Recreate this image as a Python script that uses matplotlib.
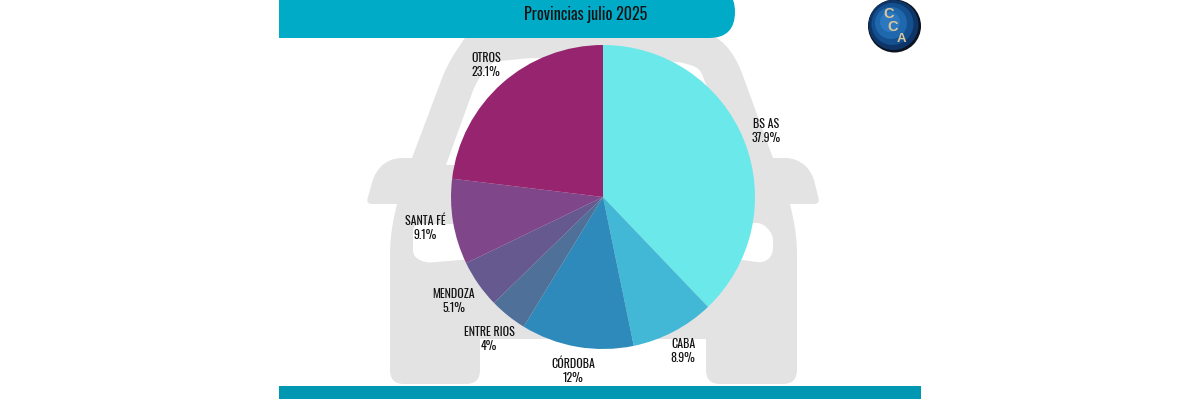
import numpy as np
import matplotlib
matplotlib.use("Agg")
import matplotlib.pyplot as plt
from matplotlib.path import Path
from matplotlib.patches import PathPatch, Circle, Rectangle, FancyBboxPatch

plt.rcParams['font.family'] = ['Oswald', 'Barlow Condensed', 'Liberation Sans', 'DejaVu Sans']

title = "Provincias julio 2025"
provinces = ["BS AS", "CABA", "CÓRDOBA", "ENTRE RIOS", "MENDOZA", "SANTA FÉ", "OTROS"]
shares = [37.9, 8.9, 12, 4, 5.1, 9.1, 23.1]
slice_colors = ["#6BE8EA", "#42B8D6", "#2E8ABA", "#4F7099", "#65598F", "#80468A", "#96246F"]
label_xy = [(766, 131.5), (683, 351.5), (573, 370.5), (489, 339.5), (453.5, 301.5), (425, 227.5), (486, 65)]

GREY = "#E3E3E3"


def rounded(points, radii):
    """Closed path through points with each corner rounded by its radius."""
    n = len(points)
    pts = np.array(points, float)
    verts, codes = [], []
    for i in range(n):
        p, a, b = pts[i], pts[i - 1], pts[(i + 1) % n]
        r = radii[i]
        u = (a - p) / np.linalg.norm(a - p)
        v = (b - p) / np.linalg.norm(b - p)
        s, e = p + u * r, p + v * r
        verts.append(s)
        codes.append(Path.MOVETO if i == 0 else Path.LINETO)
        verts += [p, e]
        codes += [Path.CURVE3, Path.CURVE3]
    verts.append(verts[0])
    codes.append(Path.CLOSEPOLY)
    return Path(verts, codes)


fig = plt.figure(figsize=(12, 4), dpi=100, facecolor="white")
bg = fig.add_axes([0, 0, 1, 1])
bg.set_xlim(0, 1200)
bg.set_ylim(400, 0)
bg.axis("off")

# car silhouette
car = [(470, 30), (718, 30), (739, 65), (773, 158), (797, 158), (812, 172), (820, 204),
       (790, 204), (797, 235), (797, 384), (706, 384), (706, 339), (480, 339), (480, 384),
       (390, 384), (390, 235), (397, 204), (366, 204), (375, 172), (390, 158), (412, 158),
       (447, 65)]
car_r = [12, 30, 8, 0, 12, 10, 6, 0, 20, 14, 14, 0, 0, 14, 14, 20, 0, 6, 10, 12, 0, 14]
bg.add_patch(PathPatch(rounded(car, [max(r, 0.01) for r in car_r]), fc=GREY, ec="none", zorder=1))
# windshield and headlight openings
shield = [(446, 165), (475, 85), (490, 62), (530, 58), (680, 62), (700, 68), (706, 85), (745, 165)]
bg.add_patch(PathPatch(rounded(shield, [0.01, 8, 10, 6, 6, 8, 5, 0.01]), fc="white", ec="none", zorder=2))
left_hole = [(413, 224), (475, 224), (475, 259), (460, 260), (425, 263), (413, 256)]
bg.add_patch(PathPatch(rounded(left_hole, [8, 0.01, 0.01, 6, 6, 6]), fc="white", ec="none", zorder=2))
right_hole = [(735, 223), (762, 223), (773, 234), (773, 255), (764, 263), (735, 259)]
bg.add_patch(PathPatch(rounded(right_hole, [0.01, 5, 7, 7, 7, 0.01]), fc="white", ec="none", zorder=2))

# header and footer bands
bg.add_patch(Rectangle((279, 0), 420, 38, fc="#00ABC8", ec="none", zorder=3))
bg.add_patch(FancyBboxPatch((300, -14), 435, 52, boxstyle="round,pad=0,rounding_size=26",
                            fc="#00ABC8", ec="none", zorder=3))
bg.add_patch(Rectangle((279, 386), 642, 13, fc="#0097B2", ec="none", zorder=3))
bg.set_xlim(0, 1200)
bg.set_ylim(400, 0)
bg.text(585.5, 14.5, title, ha="center", va="center", fontsize=11.6, color="#111111", zorder=5)

# emblem: dark rim, blue disc lit from the upper left
bg.add_patch(Circle((894.5, 26), 26.5, fc="#0B1420", ec="none", zorder=4))
for (x, y), r, c in [((893.5, 25), 25, "#0E3568"), ((892.5, 24), 21, "#14508F"),
                     ((891, 23), 16, "#1F68AE"), ((890, 22), 10, "#2C78BE")]:
    bg.add_patch(Circle((x, y), r, fc=c, ec="none", zorder=4))
for (x, y), ch, fs in [((889, 14), "C", 10.5), ((893, 27), "C", 10.5), ((901, 39), "A", 9.5)]:
    bg.text(x, y, ch, ha="center", va="center", fontsize=fs, fontweight="bold",
            color="#DCC79C", zorder=5, family=['Liberation Sans', 'DejaVu Sans'])

# pie
cx, cy, rad = 603, 197, 152
pie_ax = fig.add_axes([(cx - rad) / 1200, 1 - (cy + rad) / 400, 2 * rad / 1200, 2 * rad / 400])
pie_ax.pie(shares, colors=slice_colors, startangle=90, counterclock=False, radius=1,
           wedgeprops={"linewidth": 0})
pie_ax.set_xlim(-1, 1)
pie_ax.set_ylim(-1, 1)
pie_ax.set_aspect("equal")
pie_ax.patch.set_alpha(0)

# slice labels sit above the pie axes
top = fig.add_axes([0, 0, 1, 1])
top.set_xlim(0, 1200)
top.set_ylim(400, 0)
top.axis("off")
for name, val, (x, y) in zip(provinces, shares, label_xy):
    top.text(x, y, f"{name}\n{val:g}%", ha="center", va="center", fontsize=8.6,
             color="#111111", linespacing=1.2)

fig.savefig("out.png", dpi=100, facecolor="white")
